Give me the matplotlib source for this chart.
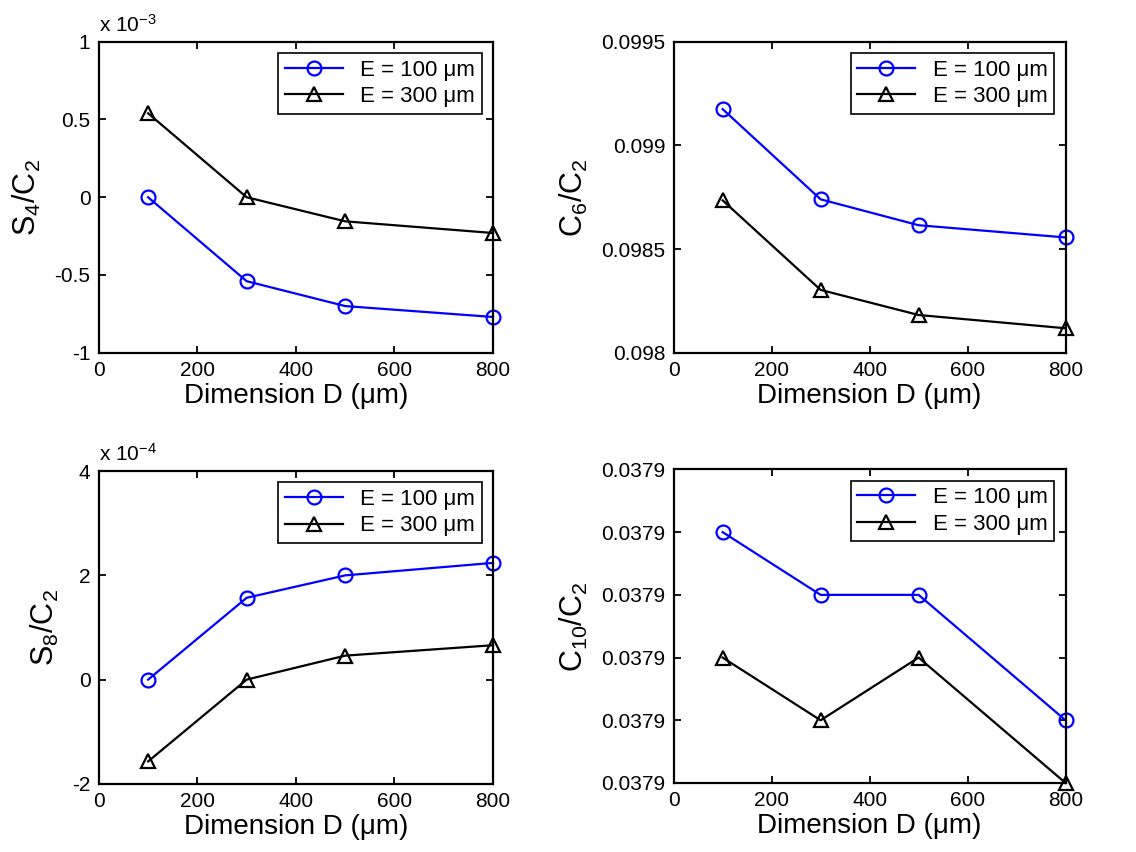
import matplotlib.pyplot as plt
from matplotlib.ticker import FuncFormatter, FixedLocator
import numpy as np

plt.rcParams['font.family'] = ['Liberation Sans', 'DejaVu Sans']
plt.rcParams['mathtext.default'] = 'regular'

dims = [100, 300, 500, 800]
labels = ["E = 100 \u03bcm", "E = 300 \u03bcm"]

# S4/C2
s4_e100 = [0.0, -0.54e-3, -0.70e-3, -0.77e-3]
s4_e300 = [0.54e-3, 0.0, -0.155e-3, -0.23e-3]
# C6/C2
c6_e100 = [0.099175, 0.09874, 0.098615, 0.098556]
c6_e300 = [0.098735, 0.098303, 0.098182, 0.098118]
# S8/C2
s8_e100 = [0.0, 1.57e-4, 2.0e-4, 2.24e-4]
s8_e300 = [-1.57e-4, 0.0, 0.46e-4, 0.66e-4]
# C10/C2 (all ticks print as 0.0379)
c10_e100 = [0.037908, 0.037906, 0.037906, 0.037902]
c10_e300 = [0.037904, 0.037902, 0.037904, 0.037900]

fig = plt.figure(figsize=(11.36, 8.52), dpi=100)

positions = [[0.087, 0.586, 0.347, 0.365], [0.593, 0.586, 0.345, 0.365],
             [0.087, 0.080, 0.347, 0.367], [0.593, 0.081, 0.345, 0.368]]


def panel(pos, y1, y2, ylabel, yticks, fmt, expo=None):
    ax = fig.add_axes(pos)
    ax.plot(dims, y1, color="blue", marker="o", markersize=10, mfc="none",
            mew=1.6, lw=1.6, label=labels[0], clip_on=False)
    ax.plot(dims, y2, color="black", marker="^", markersize=10, mfc="none",
            mew=1.6, lw=1.6, label=labels[1], clip_on=False)
    ax.set_xlim(0, 800)
    ax.set_ylim(yticks[0], yticks[-1])
    ax.set_xticks([0, 200, 400, 600, 800])
    ax.yaxis.set_major_locator(FixedLocator(yticks))
    ax.yaxis.set_major_formatter(FuncFormatter(fmt))
    ax.tick_params(direction="in", top=True, right=True, length=5, width=1.3,
                   labelsize=15, pad=6)
    for s in ax.spines.values():
        s.set_linewidth(1.6)
    ax.set_xlabel("Dimension D (\u03bcm)", fontsize=20, labelpad=2)
    ax.set_ylabel(ylabel, fontsize=22, labelpad=8)
    leg = ax.legend(loc="upper right", numpoints=1, fontsize=16, fancybox=False,
                    framealpha=1, edgecolor="black", handlelength=2.6,
                    borderaxespad=0.5, labelspacing=0.25, borderpad=0.3)
    leg.get_frame().set_linewidth(1.2)
    if expo is not None:
        ax.text(0.0, 1.02, "x 10$^{%d}$" % expo, transform=ax.transAxes,
                fontsize=15, ha="left", va="bottom")
    return ax


panel(positions[0], s4_e100, s4_e300, "$S_4/C_2$", [-1e-3, -0.5e-3, 0, 0.5e-3, 1e-3],
      lambda v, p: "%g" % round(v / 1e-3, 6), expo=-3)
panel(positions[1], c6_e100, c6_e300, "$C_6/C_2$", [0.098, 0.0985, 0.099, 0.0995],
      lambda v, p: "%g" % round(v, 6))
panel(positions[2], s8_e100, s8_e300, "$S_8/C_2$", [-2e-4, 0, 2e-4, 4e-4],
      lambda v, p: "%g" % round(v / 1e-4, 6), expo=-4)
panel(positions[3], c10_e100, c10_e300, "$C_{10}/C_2$",
      list(np.arange(0.037900, 0.0379105, 0.000002)),
      lambda v, p: "%.4f" % v)

fig.savefig("out.png", dpi=100)
